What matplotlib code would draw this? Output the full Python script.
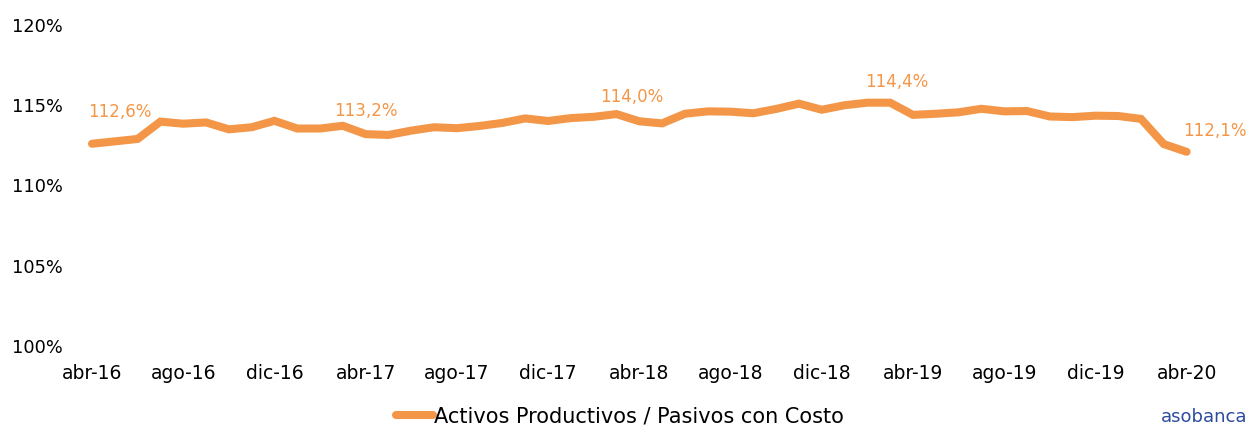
import matplotlib
matplotlib.use("Agg")
import matplotlib.pyplot as plt
import numpy as np

months = ["ene", "feb", "mar", "abr", "may", "jun", "jul", "ago", "sep", "oct", "nov", "dic"]
# monthly periods abr-16 .. abr-20
periods = []
for k in range(49):
    m = (3 + k) % 12
    y = 16 + (3 + k) // 12
    periods.append(f"{months[m]}-{y}")

values = [112.6, 112.75, 112.9, 113.98, 113.85, 113.93, 113.5, 113.63,
          114.03, 113.55, 113.55, 113.72, 113.2, 113.15, 113.42, 113.63,
          113.57, 113.71, 113.9, 114.18, 114.02, 114.2, 114.28, 114.45,
          114.0, 113.87, 114.47, 114.62, 114.6, 114.5, 114.77, 115.1,
          114.72, 115.0, 115.16, 115.16, 114.4, 114.47, 114.56, 114.78,
          114.62, 114.64, 114.3, 114.26, 114.35, 114.33, 114.15, 112.58, 112.1]

tick_idx = list(range(0, 49, 4))
tick_labels = [periods[i] for i in tick_idx]

label_idx = [0, 12, 24, 36, 48]
label_text = ["112,6%", "113,2%", "114,0%", "114,4%", "112,1%"]
label_offsets_px = [(28, 32), (0, 23), (-8, 24), (-16, 33), (28, 21)]

yticks = [100, 105, 110, 115, 120]
ytick_labels = ["100%", "105%", "110%", "115%", "120%"]

series_name = "Activos Productivos / Pasivos con Costo"
color = "#F39647"

plt.rcParams['font.family'] = ['DejaVu Sans']

W, H = 1251, 426
fig = plt.figure(figsize=(W / 100, H / 100), dpi=100)
ax = fig.add_axes([80.6 / W, 1 - 346 / H, (1198 - 80.6) / W, (346 - 25) / H])

x = np.arange(len(values))
line, = ax.plot(x, values, color=color, lw=5.8, solid_joinstyle='miter',
                solid_capstyle='round', label=series_name)

ax.set_xlim(-0.5, 48.5)
ax.set_ylim(100, 120)
ax.set_yticks(yticks)
ax.set_yticklabels(ytick_labels)
ax.set_xticks(tick_idx)
ax.set_xticklabels(tick_labels)
for s in ax.spines.values():
    s.set_visible(False)
ax.tick_params(axis='both', length=0, colors='#000000')
ax.tick_params(axis='y', pad=12.5, labelsize=12.8)
ax.tick_params(axis='x', pad=13, labelsize=13.5)

for i, t, (dx, dy) in zip(label_idx, label_text, label_offsets_px):
    ax.annotate(t, (x[i], values[i]), xytext=(dx * 0.72, dy * 0.72),
                textcoords='offset points', ha='center', va='center',
                color=color, fontsize=12)

fig.legend(handles=[line], labels=[series_name], loc='center',
           bbox_to_anchor=(620 / W, 1 - 416 / H), frameon=False,
           fontsize=15, handlelength=1.8, handletextpad=0.05)

fig.text(1204 / W, 1 - 417 / H, "asobanca", ha='center', va='center',
         color='#2E4C9E', fontsize=13)

fig.savefig("out.png", dpi=100)
